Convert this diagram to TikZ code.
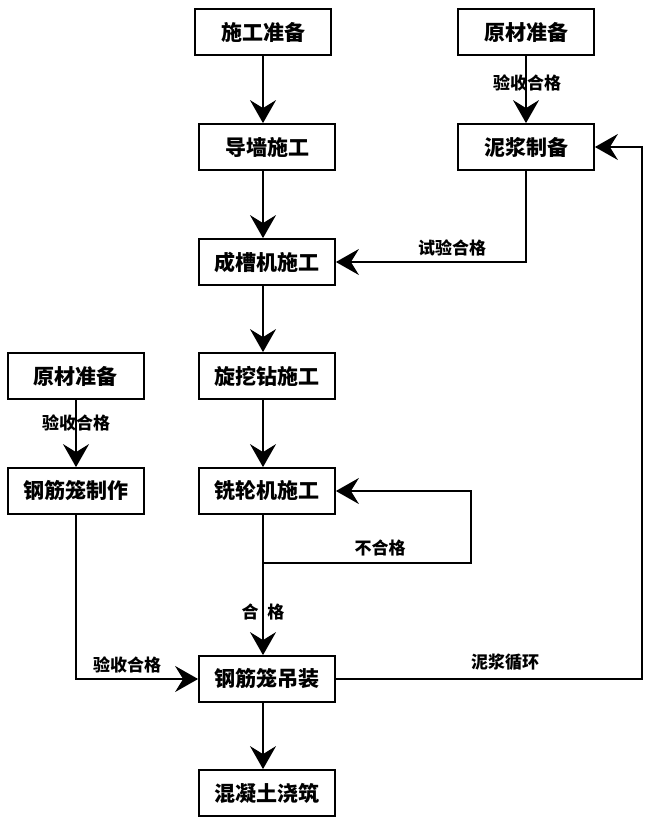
\documentclass[tikz,border=0pt]{standalone}
\usepackage{fontspec}
\setmainfont{Noto Sans CJK SC}
\usetikzlibrary{arrows.meta}
\tikzset{
    box/.style={draw,line width=1.8pt,minimum width=136pt,minimum height=46pt,inner sep=0pt,font=\fontsize{21}{21}\selectfont\bfseries},
    lbl/.style={font=\fontsize{17}{17}\selectfont\bfseries,inner sep=0pt},
    wire/.style={line width=1.5pt},
    flow/.style={wire,-{Stealth[length=23pt,width=26pt,inset=8pt]}}
}
\begin{document}
\begin{tikzpicture}[x=1pt,y=-1pt]
        \useasboundingbox (0,0) rectangle (669,830);
        \coordinate (spine) at (263,0);
        \coordinate (back) at (642,0);
        \coordinate (fail) at (471,563);
        \node [box] (prep) at (263,32) {施工准备};
        \node [box] (raw1) at (526,32) {原材准备};
        \node [box] (guide) at (267,147) {导墙施工};
        \node [box] (slurry) at (526,147) {泥浆制备};
        \node [box] (groove) at (267,262) {成槽机施工};
        \node [box] (raw2) at (76,376) {原材准备};
        \node [box] (rotary) at (267,376) {旋挖钻施工};
        \node [box] (cage) at (76,491) {钢筋笼制作};
        \node [box] (mill) at (267,491) {铣轮机施工};
        \node [box] (lift) at (267,679) {钢筋笼吊装};
        \node [box] (pour) at (267,793) {混凝土浇筑};
        \draw [flow] (spine |- prep.south) -- (spine |- guide.north);
        \draw [flow] (spine |- guide.south) -- (spine |- groove.north);
        \draw [flow] (spine |- groove.south) -- (spine |- rotary.north);
        \draw [flow] (spine |- rotary.south) -- (spine |- mill.north);
        \draw [flow] (spine |- mill.south) -- (spine |- lift.north);
        \draw [flow] (spine |- fail) -- (fail) |- (mill.east);
        \draw [flow] (spine |- lift.south) -- (spine |- pour.north);
        \draw [flow] (raw1.south) -- (slurry.north);
        \draw [flow] (slurry.south) |- (groove.east);
        \draw [flow] (raw2.south) -- (cage.north);
        \draw [flow] (cage.south) |- (lift.west);
        \draw [flow] (lift.east) -- (lift.east -| back) -- (back |- slurry.east) -- (slurry.east);
        \node [lbl] (t1) at (527,83) {验收合格};
        \node [lbl] (t2) at (452,248) {试验合格};
        \node [lbl] (t3) at (76,423) {验收合格};
        \node [lbl] (t4) at (380,548) {不合格};
        \node [lbl] (t5) at (263,612) {合\hspace{9pt}格};
        \node [lbl] (t6) at (127,665) {验收合格};
        \node [lbl] (t7) at (505,662) {泥浆循环};
    \end{tikzpicture}
\end{document}
